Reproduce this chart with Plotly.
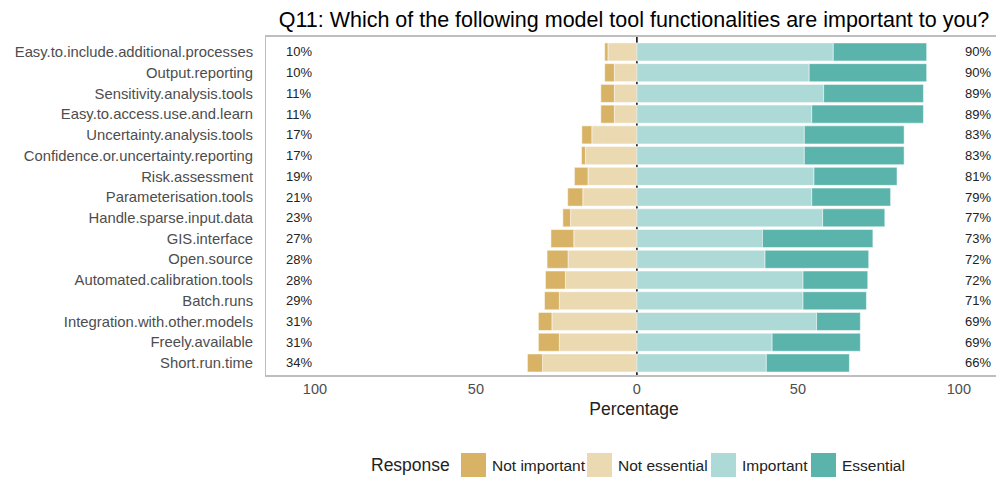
import plotly.graph_objects as go

# Q11 likert data (percent of respondents), top row first
items = [
    "Easy.to.include.additional.processes", "Output.reporting",
    "Sensitivity.analysis.tools", "Easy.to.access.use.and.learn",
    "Uncertainty.analysis.tools", "Confidence.or.uncertainty.reporting",
    "Risk.assessment", "Parameterisation.tools", "Handle.sparse.input.data",
    "GIS.interface", "Open.source", "Automated.calibration.tools",
    "Batch.runs", "Integration.with.other.models", "Freely.available",
    "Short.run.time",
]
not_important = [1.0, 3.0, 4.2, 4.2, 3.1, 1.2, 4.2, 4.7, 2.4, 7.1, 6.5, 6.2, 4.6, 4.2, 6.5, 4.7]
not_essential = [9.0, 7.0, 7.0, 7.0, 14.0, 16.0, 15.2, 16.8, 20.6, 19.6, 21.4, 22.2, 24.1, 26.4, 24.1, 29.3]
important = [61.0, 53.5, 58.0, 54.3, 52.0, 52.0, 55.0, 54.3, 57.7, 39.0, 39.8, 51.6, 51.6, 55.8, 42.0, 40.2]
essential = [29.0, 36.5, 31.0, 34.7, 31.0, 31.0, 25.8, 24.5, 19.3, 34.3, 32.2, 20.1, 19.7, 13.6, 27.4, 25.8]
low_pct = ["10%", "10%", "11%", "11%", "17%", "17%", "19%", "21%", "23%", "27%", "28%", "28%", "29%", "31%", "31%", "34%"]
high_pct = ["90%", "90%", "89%", "89%", "83%", "83%", "81%", "79%", "77%", "73%", "72%", "72%", "71%", "69%", "69%", "66%"]
x_ticks = [-100, -50, 0, 50, 100]
x_tick_text = ["100", "50", "0", "50", "100"]

levels = ["Not important", "Not essential", "Important", "Essential"]
colors = {"Not important": "#D8B365", "Not essential": "#EBD9B2",
          "Important": "#ADD9D6", "Essential": "#5AB4AC"}

FONT = "Liberation Sans, Arial, sans-serif"

# the page puts the figure 8px in from the top-left corner
OFF = 8
FW, FH = 1004 - OFF, 477 - OFF
W0, W1, H0, H1 = 266 - OFF, 1002 - OFF, 37 - OFF, 375 - OFF

def px_x(p):
    return (p - OFF - W0) / (W1 - W0)

def px_y(p):
    return (H1 - (p - OFF)) / (H1 - H0)

fig = go.Figure()

# negative side: trace nearest zero first
for name, vals in [("Not essential", not_essential), ("Not important", not_important)]:
    fig.add_trace(go.Bar(
        y=items, x=[-v for v in vals], name=name, orientation="h", width=0.87,
        marker=dict(color=colors[name], line=dict(color="white", width=0.5)),
        showlegend=False, hoverinfo="skip",
    ))
for name, vals in [("Important", important), ("Essential", essential)]:
    fig.add_trace(go.Bar(
        y=items, x=vals, name=name, orientation="h", width=0.87,
        marker=dict(color=colors[name], line=dict(color="white", width=0.5)),
        showlegend=False, hoverinfo="skip",
    ))

# percent labels at both ends
for it, lo, hi in zip(items, low_pct, high_pct):
    fig.add_annotation(x=-105, y=it, text=lo, showarrow=False,
                       font=dict(family=FONT, size=13, color="#222222"))
    fig.add_annotation(x=106, y=it, text=hi, showarrow=False,
                       font=dict(family=FONT, size=13, color="#222222"))

# zero line behind the bars
fig.add_shape(type="line", xref="x", yref="paper", x0=0, x1=0, y0=0, y1=1,
              line=dict(color="black", width=1.5), layer="below")

# manual legend below the plot
fig.add_annotation(xref="paper", yref="paper", x=px_x(452), y=px_y(465),
                   xanchor="right", yanchor="middle", text="Response", showarrow=False,
                   font=dict(family=FONT, size=17.5, color="#222222"))
sq_left = [461, 587, 711, 811]
for name, xl in zip(levels, sq_left):
    fig.add_shape(type="rect", xref="paper", yref="paper",
                  x0=px_x(xl), x1=px_x(xl + 25), y0=px_y(453), y1=px_y(478),
                  fillcolor=colors[name], line=dict(width=0))
    fig.add_annotation(xref="paper", yref="paper", x=px_x(xl + 29), y=px_y(465),
                       xanchor="left", yanchor="middle", text=name, showarrow=False,
                       font=dict(family=FONT, size=15.5, color="#222222"))

fig.update_layout(
    width=FW, height=FH,
    margin=dict(l=W0, r=FW - W1, t=H0, b=FH - H1),
    barmode="relative",
    plot_bgcolor="white", paper_bgcolor="white",
    font=dict(family=FONT, color="#222222"),
    title=dict(text="Q11: Which of the following model tool functionalities are important to you?",
               x=0.5, xref="paper", xanchor="center", y=1 - (19 - OFF) / FH, yanchor="middle",
               font=dict(family=FONT, size=21.5, color="black")),
)
fig.update_xaxes(
    range=[-115.2, 113.4], tickvals=x_ticks, ticktext=x_tick_text,
    showgrid=False, zeroline=False, ticks="",
    tickfont=dict(family=FONT, size=14.5, color="#4D4D4D"),
    showline=True, linecolor="#BEBEBE", linewidth=2, mirror=True,
    title=dict(text="Percentage", font=dict(family=FONT, size=17.5, color="#222222"), standoff=6),
)
fig.update_yaxes(
    categoryorder="array", categoryarray=items[::-1], range=[-0.58, 15.72],
    showgrid=False, zeroline=False, ticks="", ticklabelstandoff=9,
    tickfont=dict(family=FONT, size=14.8, color="#4D4D4D"),
    showline=True, linecolor="#BEBEBE", linewidth=1,
)

fig.write_html("out.html")
